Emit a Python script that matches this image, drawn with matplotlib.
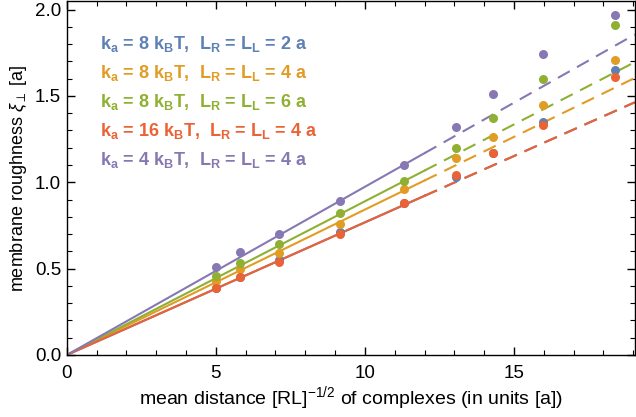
import matplotlib
matplotlib.use("Agg")
import matplotlib.pyplot as plt
import numpy as np
from matplotlib.ticker import MultipleLocator

plt.rcParams['font.family'] = ['Liberation Sans', 'DejaVu Sans']
plt.rcParams['mathtext.fontset'] = 'custom'
plt.rcParams['mathtext.rm'] = 'Liberation Sans'
plt.rcParams['mathtext.it'] = 'Liberation Sans:italic'
plt.rcParams['mathtext.bf'] = 'Liberation Sans:bold'

# data
x_vals = [5.02, 5.82, 7.12, 9.16, 11.3, 13.04, 14.28, 15.99, 18.39]
y_blue = [0.39, 0.45, 0.55, 0.71, 0.88, 1.03, 1.17, 1.35, 1.65]
y_orange = [0.43, 0.50, 0.59, 0.76, 0.96, 1.14, 1.26, 1.45, 1.71]
y_green = [0.46, 0.535, 0.645, 0.82, 1.01, 1.20, 1.375, 1.60, 1.91]
y_red = [0.39, 0.45, 0.54, 0.70, 0.88, 1.04, 1.17, 1.33, 1.61]
y_purple = [0.51, 0.595, 0.70, 0.89, 1.10, 1.32, 1.51, 1.74, 1.97]
slopes = [0.0768, 0.0842, 0.0890, 0.0768, 0.0974]
labels = [
    r"k$_\mathbf{a}$ = 8 k$_\mathbf{B}$T,  L$_\mathbf{R}$ = L$_\mathbf{L}$ = 2 a",
    r"k$_\mathbf{a}$ = 8 k$_\mathbf{B}$T,  L$_\mathbf{R}$ = L$_\mathbf{L}$ = 4 a",
    r"k$_\mathbf{a}$ = 8 k$_\mathbf{B}$T,  L$_\mathbf{R}$ = L$_\mathbf{L}$ = 6 a",
    r"k$_\mathbf{a}$ = 16 k$_\mathbf{B}$T,  L$_\mathbf{R}$ = L$_\mathbf{L}$ = 4 a",
    r"k$_\mathbf{a}$ = 4 k$_\mathbf{B}$T,  L$_\mathbf{R}$ = L$_\mathbf{L}$ = 4 a",
]
colors = ['#5E81B5', '#E19C24', '#8FB032', '#EB6235', '#8778B3']
series = [y_blue, y_orange, y_green, y_red, y_purple]
x_switch = 12.0
x_max = 19.05

fig = plt.figure(figsize=(6.36, 4.17), dpi=100)
ax = fig.add_axes([0.105, 0.1487, 0.893, 0.849])

for s, c in zip(slopes, colors):
    xs = np.array([0, x_switch])
    ax.plot(xs, s * xs, color=c, lw=1.5, zorder=2)
    xd = np.array([x_switch, x_max])
    ax.plot(xd, s * xd, color=c, lw=1.5, ls=(0, (6.5, 4)), zorder=2)

for ys, c in zip(series, colors):
    ax.plot(x_vals, ys, 'o', color=c, ms=6.5, mec='none', zorder=3)

ax.set_xlim(0, x_max)
ax.set_ylim(0, 2.05)
ax.xaxis.set_major_locator(MultipleLocator(5))
ax.xaxis.set_minor_locator(MultipleLocator(1))
ax.yaxis.set_major_locator(MultipleLocator(0.5))
ax.yaxis.set_minor_locator(MultipleLocator(0.1))
ax.yaxis.set_major_formatter(matplotlib.ticker.FormatStrFormatter('%.1f'))
ax.tick_params(which='both', direction='in', top=True, right=True, labelsize=13.5, color='black')
ax.tick_params(which='major', length=6, width=1)
ax.tick_params(which='minor', length=3.5, width=0.8)
ax.tick_params(axis='x', which='major', pad=7.5)
ax.tick_params(axis='y', which='major', pad=4)
for sp in ax.spines.values():
    sp.set_linewidth(1)

ax.set_xlabel(r"mean distance [RL]$^{-1/2}$ of complexes (in units [a])", fontsize=14, labelpad=1)
ax.set_ylabel(r"membrane roughness $\it{ξ}_\perp$ [a]", fontsize=13, labelpad=4)

for i, (lab, c) in enumerate(zip(labels, colors)):
    ax.text(0.058, 0.879 - i * 0.082, lab, transform=ax.transAxes, color=c,
            fontsize=13, fontweight='bold', va='center', ha='left')

fig.savefig("out.png", dpi=100)
